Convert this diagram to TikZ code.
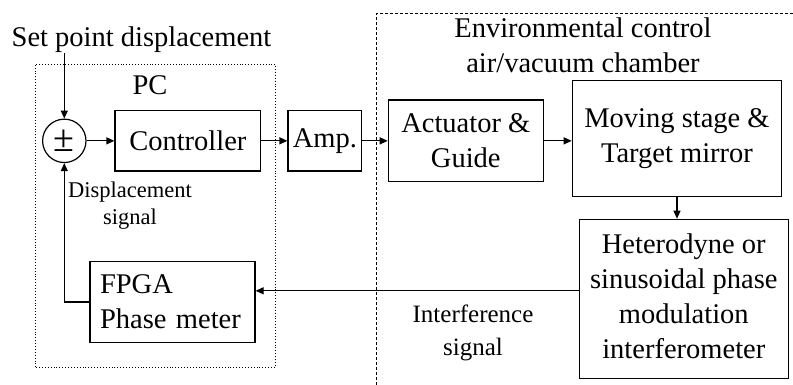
\documentclass[tikz,border=0pt]{standalone}
\usepackage{fontspec}
\setmainfont{Liberation Serif}
\usetikzlibrary{arrows.meta, positioning, calc}

\begin{document}
\begin{tikzpicture}[
    x=1pt, y=1pt,
    >={Triangle[length=8pt,width=7pt]},
    box/.style={draw, line width=1.2pt, inner sep=0pt, align=center, font=\fontsize{28.5}{35}\selectfont},
    label/.style={inner sep=0pt, align=center, font=\fontsize{28.5}{35}\selectfont},
    note/.style={inner sep=0pt, align=center},
    flow/.style={->, line width=1.2pt}
  ]
    \useasboundingbox (0,0) rectangle (793,385);
    % frames: PC and chamber
    \draw[dotted, line width=0.9pt] (35,17.7) rectangle (275.3,320.7);
    \draw[dash pattern=on 3pt off 2pt, line width=0.9pt] (376.7,0) -- (376.7,371.7) -- (793,371.7);

    \node[box, circle, minimum size=43.4pt, font=\fontsize{38}{38}\selectfont] (sum) at (64.3,244.15) {±};
    \node[box, minimum width=145.7pt, minimum height=60.3pt] (ctrl) at (187.85,244.15) {Controller};
    \node[box, minimum width=73.7pt, minimum height=60.3pt] (amp) at (324.85,244.15) {Amp.};
    \node[box, minimum width=155pt, minimum height=81.7pt] (act) at (465.8,244.15) {Actuator \&\\Guide};
    \node[box, minimum width=209.4pt, minimum height=116pt] (stage) at (677,246.3) {Moving stage \&\\Target mirror};
    \node[box, minimum width=209pt, minimum height=159pt, text depth=6pt] (het) at (683.8,86.2) {Heterodyne or\\sinusoidal phase\\modulation\\interferometer};
    \node[box, align=left, text width=145pt, minimum width=165pt, minimum height=80.6pt] (fpga) at (172.5,83) {FPGA\\Phase meter};

    \node[label, anchor=base] (setpt) at (141.5,338.3) {Set point displacement};
    \node[label] (pc) at (150,300) {PC};
    \node[label] (env) at (583,340) {Environmental control\\air/vacuum chamber};
    \node[note, font=\fontsize{22.5}{27}\selectfont] (disp) at (130,179) {Displacement\\signal};
    \node[note, font=\fontsize{25}{33}\selectfont] (intf) at (473,52.3) {Interference\\signal};

    \coordinate (hetout) at ($(het.west)+(0,8)$);

    \draw[flow] (sum |- setpt.south) -- (sum);
    \draw[flow] (sum) -- (ctrl);
    \draw[flow] (ctrl) -- (amp);
    \draw[flow] (amp) -- (act);
    \draw[flow] (act) -- (act -| stage.west);
    \draw[flow] (stage.south) -- (stage.south |- het.north);
    \draw[flow] (hetout) -- (hetout -| fpga.east);
    \draw[flow] (fpga.west) -| (sum.south);
  \end{tikzpicture}
\end{document}
